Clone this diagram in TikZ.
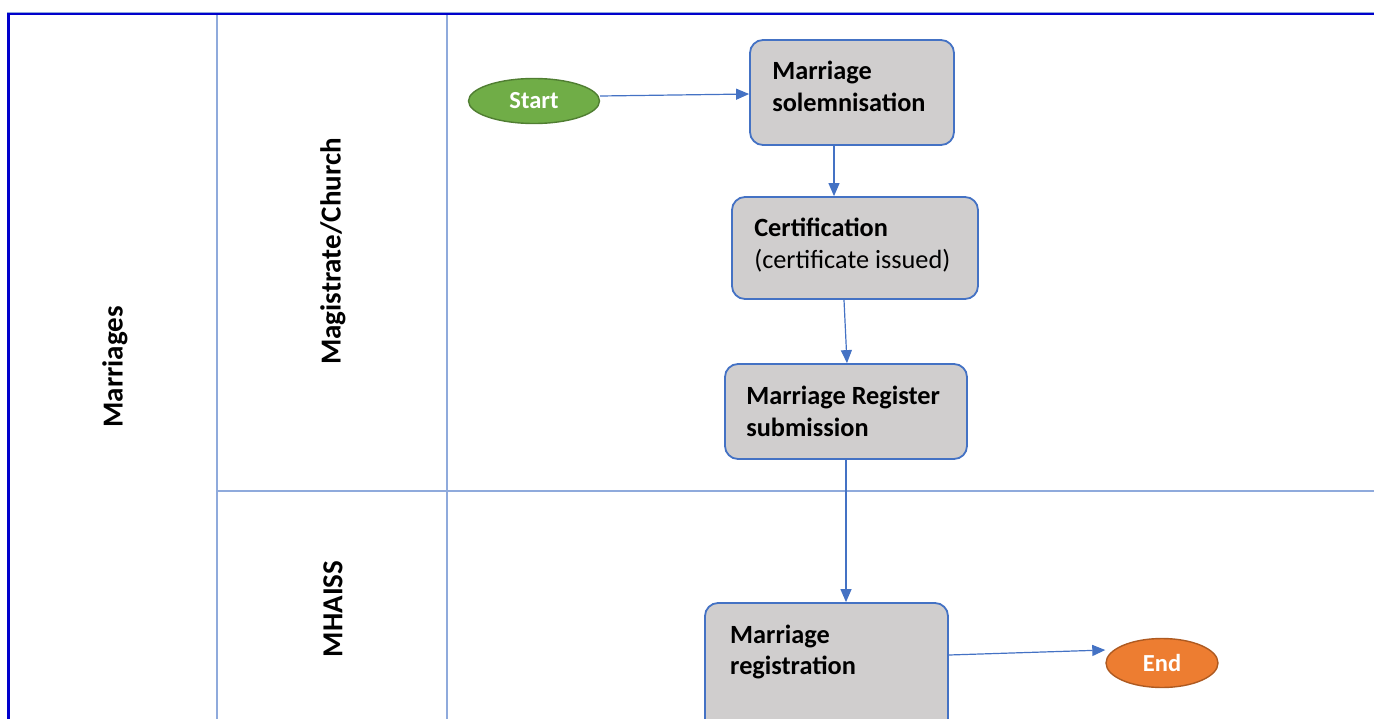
\documentclass[tikz,border=0pt]{standalone}
\usepackage{fontspec}
\setmainfont{Carlito}
\usetikzlibrary{arrows.meta,shapes.geometric,calc}
\definecolor{frameblue}{RGB}{0,0,204}
\definecolor{laneline}{RGB}{143,170,220}
\definecolor{boxedge}{RGB}{68,114,196}
\definecolor{boxfill}{RGB}{208,206,206}
\definecolor{startfill}{RGB}{112,173,71}
\definecolor{startedge}{RGB}{80,126,50}
\definecolor{endfill}{RGB}{237,125,49}
\definecolor{endedge}{RGB}{174,90,33}
\tikzset{
  lanesep/.style={draw=laneline, line width=1.6pt},
  lanelabel/.style={rotate=90, font=\bfseries\fontsize{29}{34}\selectfont, inner sep=0pt},
  stepbox/.style={draw=boxedge, fill=boxfill, line width=1.8pt, rounded corners=13pt, inner sep=0pt},
  steptext/.style={anchor=west, align=left, inner sep=0pt, font=\fontsize{26.3}{31.5}\selectfont},
  terminal/.style={ellipse, line width=1.4pt, inner sep=0pt, text=white, font=\bfseries\fontsize{24.5}{28}\selectfont},
  flow/.style={draw=boxedge, line width=1.2pt, -{Triangle[length=13pt,width=11pt]}}
}
\begin{document}
\begin{tikzpicture}[x=1pt, y=-1pt]
\useasboundingbox (0,0) rectangle (1374,718);
\begin{scope}
\clip (0,0) rectangle (1374,718);

% pool frame and lane separators
\draw[laneline, line width=1pt] (7,12.2) -- (1380,12.2);
\draw[lanesep] (216.8,14) -- (216.8,730);
\draw[lanesep] (446.8,14) -- (446.8,730);
\draw[lanesep] (216.8,491) -- (1380,491);
\draw[frameblue, line width=2.4pt] (1380,14) -- (8.6,14) -- (8.6,730);

% lane titles
\node[lanelabel] (pool) at (115,367) {Marriages};
\node[lanelabel] (lane1) at (333,251.5) {Magistrate/Church};
\node[lanelabel] (lane2) at (333,609) {MHAISS};

% terminals
\node[terminal, draw=startedge, fill=startfill, minimum width=131pt, minimum height=45pt] (start) at (534,101) {Start};
\node[terminal, draw=endedge, fill=endfill, minimum width=112pt, minimum height=49pt] (end) at (1162,663) {End};

% process steps
\node[stepbox, minimum width=204pt, minimum height=105pt] (solem) at (852,92.5) {};
\node[steptext] (solemT) at ($(solem.west)+(23,-6)$) {\bfseries Marriage\\\bfseries solemnisation};

\node[stepbox, minimum width=246pt, minimum height=102pt] (cert) at (855,248) {};
\node[steptext] (certT) at ($(cert.west)+(23,-3)$) {\bfseries Certification\\(certificate issued)};

\node[stepbox, minimum width=242pt, minimum height=95pt] (subm) at (846,411.5) {};
\node[steptext] (submT) at ($(subm.west)+(22,0)$) {\bfseries Marriage Register\\\bfseries submission};

\node[stepbox, minimum width=243pt, minimum height=140pt] (regn) at (826.5,673) {};
\node[steptext] (regnT) at (730,652) {\bfseries Marriage\\\bfseries registration};

% sequence flows
\draw[flow] (start.east |- 0,96) -- (solem.west |- 0,94);
\draw[flow] (solem.south -| 834,0) -- (cert.north -| 834,0);
\draw[flow] (cert.south -| 844,0) -- (subm.north -| 847,0);
\draw[flow] (subm.south) -- (regn.north -| subm.south);
\draw[flow] (regn.east |- 0,655) -- (end.west |- 0,650);
\end{scope}
\end{tikzpicture}
\end{document}
